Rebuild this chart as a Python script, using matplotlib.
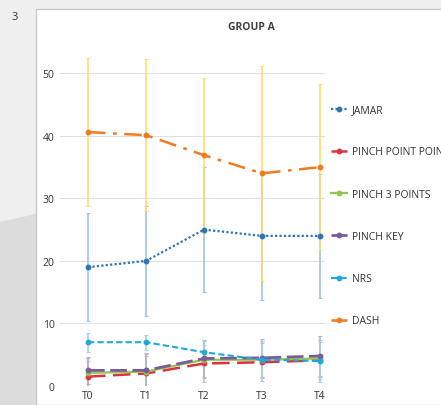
import matplotlib
matplotlib.use("Agg")
import matplotlib.pyplot as plt
from matplotlib.patches import Rectangle, Polygon

plt.rcParams['font.family'] = ['Open Sans', 'DejaVu Sans']

# data
times = ["T0", "T1", "T2", "T3", "T4"]

jamar = [19.0, 20.0, 25.0, 24.0, 24.0]
jamar_err = [8.6, 8.8, 10.0, 10.2, 9.9]

pinch_point = [1.5, 2.0, 3.6, 3.8, 4.1]
pinch_point_err = [2.5, 2.8, 3.0, 3.0, 3.0]

pinch_3 = [2.1, 2.3, 4.2, 4.2, 4.4]
pinch_3_err = [2.4, 2.8, 3.0, 3.0, 3.0]

pinch_key = [2.5, 2.5, 4.4, 4.5, 4.8]
pinch_key_err = [2.2, 2.8, 3.0, 3.0, 3.2]

nrs = [7.0, 7.0, 5.4, 4.2, 4.0]
nrs_err = [1.5, 1.2, 2.0, 3.0, 3.3]

dash = [40.6, 40.1, 36.9, 34.0, 35.0]
dash_err = [11.8, 12.2, 12.4, 17.2, 13.3]

series = [
    ("JAMAR", jamar, jamar_err, "#2e75b6", "#9dc3e6", (0, (1, 1)), 1.6),
    ("PINCH POINT POINT", pinch_point, pinch_point_err, "#e03040", "#c0c0cc", (0, (7, 3)), 1.8),
    ("PINCH 3 POINTS", pinch_3, pinch_3_err, "#92c84a", "#c0c0cc", "-", 1.6),
    ("PINCH KEY", pinch_key, pinch_key_err, "#7a5c9c", "#b4b4c8", (0, (6, 2)), 2.0),
    ("NRS", nrs, nrs_err, "#1fa8d8", "#a4d2e8", (0, (3, 1.5)), 1.5),
    ("DASH", dash, dash_err, "#f07c22", "#ffdc70", (0, (7, 3, 1.5, 3)), 1.8),
]

fig = plt.figure(figsize=(4.41, 4.06), dpi=100, facecolor="#efefef")

# page background pieces
fig.patches.append(Polygon([(0, 1 - 223 / 406), (36 / 441, 1 - 215 / 406), (36 / 441, 0), (0, 0)],
                           closed=True, transform=fig.transFigure, facecolor="#dcdcdc",
                           edgecolor="none", zorder=-3))
fig.patches.append(Rectangle((36 / 441, 0), 1, 1 - 10 / 406, transform=fig.transFigure,
                             facecolor="white", edgecolor="#c8c8c8", linewidth=1.0, zorder=-2))
fig.text(15 / 441, 1 - 17 / 406, "3", fontsize=8, color="#333333", va="center", ha="center")

ax = fig.add_axes([60 / 441, 19 / 406, 265 / 441, 344 / 406])
ax.set_facecolor("none")
ax.set_zorder(2)

x = list(range(len(times)))
handles = []
for name, vals, errs, color, ecolor, ls, lw in series:
    ax.errorbar(x, vals, yerr=errs, fmt="none", ecolor=ecolor, elinewidth=1.2,
                capsize=1.5, capthick=0.8, zorder=2)
    line, = ax.plot(x, vals, linestyle=ls, color=color, linewidth=lw,
                    marker="o", markersize=3.2, label=name, zorder=3)
    handles.append(line)

ax.set_xlim(-0.483, 4.086)
ax.set_ylim(0, 55)
ax.set_yticks([0, 10, 20, 30, 40, 50])
ax.set_xticks(x)
ax.set_xticklabels(times)
ax.grid(axis="y", color="#e0e0e0", linewidth=0.8)
ax.set_axisbelow(True)
for s in ax.spines.values():
    s.set_visible(False)
ax.tick_params(length=0, labelsize=7.5, labelcolor="#333333")
ax.tick_params(axis="y", pad=4)
ax.tick_params(axis="x", pad=3)

fig.text(251 / 441, 1 - 27 / 406, "GROUP A", fontsize=7.5, fontweight="bold",
         color="#404040", ha="center", va="center")

fig.legend(handles=handles, loc="upper left", bbox_to_anchor=(326 / 441, 1 - 100 / 406),
           frameon=False, fontsize=7.5, handlelength=1.5, handletextpad=0.5,
           labelspacing=3.0, borderpad=0, labelcolor="#333333")

fig.savefig("out.png", dpi=100, facecolor=fig.get_facecolor())
